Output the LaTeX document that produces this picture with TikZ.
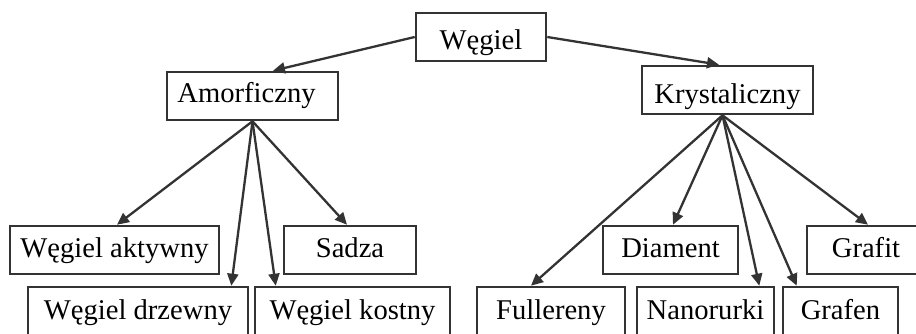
\documentclass[tikz,border=0pt]{standalone}
\usepackage{fontspec}
\setmainfont{Liberation Serif}
\usetikzlibrary{positioning}
\usetikzlibrary{arrows.meta}
\tikzset{
    boxnode/.style = {rectangle, line width=2.6pt, draw=black!80, align=center, fill=white, inner sep=0pt, minimum height=48pt, text height=20pt, text depth=6pt, font=\fontsize{28.6}{32}\selectfont, text=black},
    edgen/.style = {-{Triangle[length=12pt,width=11pt]}, line width=2.3pt, black!80},
}

\begin{document}
\begin{tikzpicture}[x=1pt, y=-1pt]
  \useasboundingbox (0,0) rectangle (916,333);
  % top
  \node[boxnode, minimum width=130pt, text height=30pt] (wegiel) at (481,37) {Węgiel};
  \node[boxnode, minimum width=171pt, text height=18pt] (amorf) at (252.5,96) {\hspace*{-12pt}Amorficzny};
  \node[boxnode, minimum width=171pt, text height=32pt] (kryst) at (727.5,90) {Krystaliczny};
  % amorficzny
  \node[boxnode, minimum width=209pt] (aktywny) at (114.5,250) {Węgiel aktywny};
  \node[boxnode, minimum width=132pt] (sadza) at (350,250) {Sadza};
  \node[boxnode, minimum width=220pt, text height=22pt] (drzewny) at (138,311) {Węgiel drzewny};
  \node[boxnode, minimum width=195pt, text height=22pt] (kostny) at (352.5,311) {Węgiel kostny};
  % krystaliczny
  \node[boxnode, minimum width=135pt] (diament) at (670.5,250) {Diament};
  \node[boxnode, minimum width=118pt] (grafit) at (866,250) {Grafit};
  \node[boxnode, minimum width=148pt, text height=22pt] (fullereny) at (551,311) {Fullereny};
  \node[boxnode, minimum width=137pt, text height=22pt] (nanorurki) at (705.5,311) {Nanorurki};
  \node[boxnode, minimum width=115pt, text height=22pt] (grafen) at (840.5,311) {Grafen};

  \draw[edgen] (wegiel.west) -- ([xshift=20.5pt]amorf.north);
  \draw[edgen] (wegiel.east) -- ([xshift=-8.5pt]kryst.north);

  \draw[edgen] (amorf.south) -- ([xshift=2.5pt]aktywny.north);
  \draw[edgen] (amorf.south) -- ([xshift=-18pt]drzewny.north east);
  \draw[edgen] (amorf.south) -- ([xshift=22pt]kostny.north west);
  \draw[edgen] (amorf.south) -- ([xshift=-3pt]sadza.north);

  \draw[edgen] ([xshift=-5pt]kryst.south) -- ([xshift=-20pt]fullereny.north);
  \draw[edgen] ([xshift=-5pt]kryst.south) -- ([xshift=2.5pt]diament.north);
  \draw[edgen] ([xshift=-5pt]kryst.south) -- ([xshift=-16pt]nanorurki.north east);
  \draw[edgen] ([xshift=-5pt]kryst.south) -- ([xshift=15pt]grafen.north west);
  \draw[edgen] ([xshift=-5pt]kryst.south) -- ([xshift=2pt]grafit.north);
\end{tikzpicture}
\end{document}
